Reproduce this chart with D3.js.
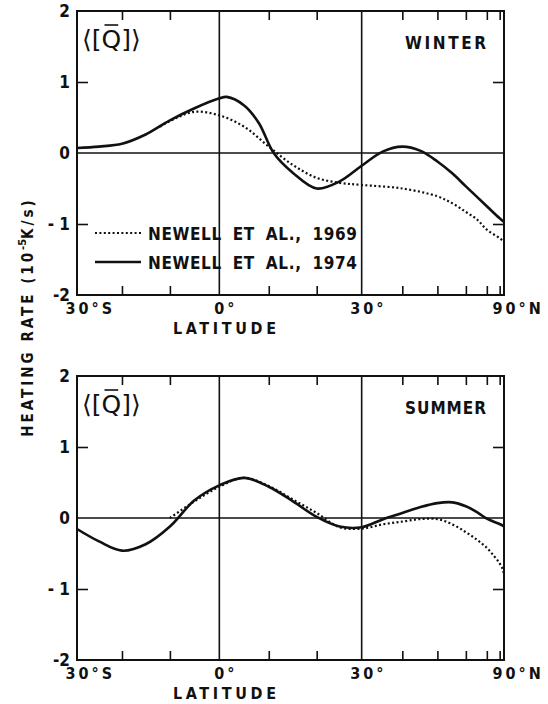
<!DOCTYPE html>
<html lang="en">
<head>
<meta charset="UTF-8">
<title>Heating rate, winter and summer</title>
<script src="https://d3js.org/d3.v7.min.js"></script>
<style>
  body { margin: 0; background: #fff; }
  svg { display: block; }
  .lbl { font-family: "DejaVu Sans Condensed", "DejaVu Sans", sans-serif; font-weight: bold; font-size: 17px; fill: #111; }
  .frame { fill: none; stroke: #111; stroke-width: 2; }
  .ref { stroke: #111; stroke-width: 1.6; }
  .tick line { stroke: #111; stroke-width: 1.6; }
  .s1974 { fill: none; stroke: #111; stroke-width: 2.6; }
  .s1969 { fill: none; stroke: #111; stroke-width: 2.2; stroke-dasharray: 2 2.4; }
</style>
</head>
<body>
<div id="chart"></div>
<script>
// latitude ticks (every 10 deg) and labels
const latTicks = [-20, -10, 10, 20, 40, 50, 60, 70, 80];
const refLats = [0, 30];
const xLabelLats = [-30, 0, 30, 90];
const xLabelNums = ["30", "0", "30", "90"];
const xLabelSuffix = ["°S", "°", "°", "°N"];
const yTicks = [2, 1, 0, -1, -2];
const yTickLabels = ["2", "1", "0", "- 1", "-2"];

// winter
const winterLat1974 = [-30, -25, -20, -15, -10, -5, 0, 1.5, 5, 8, 11, 15, 20, 25, 30, 35, 40, 45, 50, 55, 60, 70, 80, 90];
const winterQ1974   = [0.07, 0.09, 0.13, 0.26, 0.46, 0.63, 0.77, 0.79, 0.67, 0.42, 0, -0.28, -0.5, -0.4, -0.18, 0.02, 0.09, 0.03, -0.12, -0.29, -0.47, -0.75, -0.92, -0.97];
const winterLat1969 = [-12, -10, -5, 0, 5, 10, 15, 20, 25, 30, 40, 50, 55, 60, 65, 70, 80, 90];
const winterQ1969   = [0.37, 0.45, 0.58, 0.53, 0.37, 0.09, -0.17, -0.35, -0.42, -0.45, -0.5, -0.61, -0.71, -0.83, -0.94, -1.08, -1.2, -1.25];

// summer
const summerLat1974 = [-30, -25, -20, -15, -10, -5, 0, 5, 10, 15, 20, 25, 30, 35, 40, 45, 50, 55, 60, 65, 70, 80, 90];
const summerQ1974   = [-0.155, -0.33, -0.46, -0.37, -0.12, 0.25, 0.46, 0.565, 0.44, 0.235, 0.015, -0.12, -0.13, -0.02, 0.07, 0.155, 0.21, 0.22, 0.165, 0.08, -0.01, -0.085, -0.12];
const summerLat1969 = [-10, -5, 0, 5, 10, 15, 20, 25, 30, 35, 40, 45, 50, 55, 60, 65, 70, 75, 80, 85, 90];
const summerQ1969   = [0, 0.235, 0.44, 0.565, 0.45, 0.26, 0.07, -0.13, -0.15, -0.09, -0.05, -0.015, -0.015, -0.09, -0.2, -0.31, -0.42, -0.54, -0.64, -0.73, -0.8];

const legendNames = ["NEWELL ET AL., 1969", "NEWELL ET AL., 1974"];

const W = 548, H = 704;
const left = 77, right = 504;

const svg = d3.select("#chart").append("svg")
    .attr("width", W).attr("height", H);

// x axis is linear in sin(latitude)
const xSin = d3.scaleLinear().domain([-0.5, 1]).range([left, right]);
const rad = d => Math.sin(d * Math.PI / 180);
const xLat = d => xSin(rad(d));

const panels = [
    { name: "WINTER", top: 11, bottom: 295, lat74: winterLat1974, q74: winterQ1974, lat69: winterLat1969, q69: winterQ1969, legend: true },
    { name: "SUMMER", top: 376, bottom: 660, lat74: summerLat1974, q74: summerQ1974, lat69: summerLat1969, q69: summerQ1969, legend: false }
];

panels.forEach(p => {
    const y = d3.scaleLinear().domain([-2, 2]).range([p.bottom, p.top]);
    const g = svg.append("g");

    // tick marks
    g.append("g").attr("transform", `translate(0,${p.top})`)
        .call(d3.axisTop(xSin).tickValues(latTicks.map(rad)).tickSize(-9).tickFormat(""))
        .call(a => a.select(".domain").remove());
    g.append("g").attr("transform", `translate(0,${p.bottom})`)
        .call(d3.axisBottom(xSin).tickValues(latTicks.map(rad)).tickSize(-9).tickFormat(""))
        .call(a => a.select(".domain").remove());
    g.append("g").attr("transform", `translate(${left},0)`)
        .call(d3.axisLeft(y).tickValues([-1, 1]).tickSize(-11).tickFormat(""))
        .call(a => a.select(".domain").remove());
    g.append("g").attr("transform", `translate(${right},0)`)
        .call(d3.axisRight(y).tickValues([-1, 1]).tickSize(-11).tickFormat(""))
        .call(a => a.select(".domain").remove());

    // reference lines
    g.selectAll(".vref").data(refLats).join("line")
        .attr("class", "ref")
        .attr("x1", d => xLat(d)).attr("x2", d => xLat(d))
        .attr("y1", p.top).attr("y2", p.bottom);
    g.append("line").attr("class", "ref")
        .attr("x1", left).attr("x2", right)
        .attr("y1", y(0)).attr("y2", y(0));

    g.append("rect").attr("class", "frame")
        .attr("x", left).attr("y", p.top)
        .attr("width", right - left).attr("height", p.bottom - p.top);

    // curves
    const line = d3.line()
        .x(d => xLat(d[0])).y(d => y(d[1]))
        .curve(d3.curveCatmullRom.alpha(0.5));
    g.append("path").attr("class", "s1969")
        .attr("d", line(p.lat69.map((l, i) => [l, p.q69[i]])));
    g.append("path").attr("class", "s1974")
        .attr("d", line(p.lat74.map((l, i) => [l, p.q74[i]])));

    // y tick labels
    g.selectAll(".ylab").data(yTicks).join("text")
        .attr("class", "lbl")
        .attr("x", 70).attr("y", d => y(d)).attr("dy", "0.36em")
        .attr("text-anchor", "end")
        .text((d, i) => yTickLabels[i]);

    // x labels: numeric part centred on the tick
    xLabelLats.forEach((lat, i) => {
        const t = g.append("text").attr("class", "lbl")
            .attr("y", p.bottom + 19)
            .style("font-size", "16px")
            .style("letter-spacing", "3px");
        const num = t.append("tspan").text(xLabelNums[i]);
        t.append("tspan").text(xLabelSuffix[i]);
        const w = num.node().getComputedTextLength() - 3;
        t.attr("x", xLat(lat) - w / 2);
    });

    g.append("text").attr("class", "lbl")
        .attr("x", 173).attr("y", p.bottom + 39)
        .style("font-size", "16px")
        .attr("textLength", 103).attr("lengthAdjust", "spacing")
        .text("LATITUDE");

    // season
    g.append("text").attr("class", "lbl")
        .attr("x", 405).attr("y", p.top + 38)
        .attr("textLength", 81).attr("lengthAdjust", "spacing")
        .text(p.name);

    // <[Q]> label
    const q = g.append("text")
        .attr("x", 82).attr("y", p.top + 37)
        .style("font-family", "DejaVu Sans, sans-serif")
        .style("font-size", "25px").style("fill", "#111")
        .text("⟨[Q]⟩");
    const ext = q.node().getExtentOfChar(2);
    g.append("line").attr("class", "ref")
        .attr("x1", ext.x + 3).attr("x2", ext.x + ext.width - 3)
        .attr("y1", p.top + 14).attr("y2", p.top + 14);

    if (p.legend) {
        const rows = [{ cls: "s1969", ly: 233 }, { cls: "s1974", ly: 262 }];
        rows.forEach((r, i) => {
            g.append("line").attr("class", r.cls)
                .attr("x1", 95).attr("x2", 141).attr("y1", r.ly).attr("y2", r.ly);
            g.append("text").attr("class", "lbl")
                .attr("x", 148).attr("y", r.ly + 7)
                .attr("textLength", 209).attr("lengthAdjust", "spacing")
                .style("word-spacing", "5px")
                .text(legendNames[i]);
        });
    }
});

// shared y title
const yt = svg.append("text").attr("class", "lbl")
    .attr("transform", "translate(33,317) rotate(-90)")
    .attr("text-anchor", "middle")
    .style("font-size", "15px").style("letter-spacing", "3px");
yt.append("tspan").text("HEATING RATE (10");
yt.append("tspan").attr("dy", -7).style("font-size", "11px").style("letter-spacing", "0px").text("-5");
yt.append("tspan").attr("dy", 7).text("K/s)");
</script>
</body>
</html>
